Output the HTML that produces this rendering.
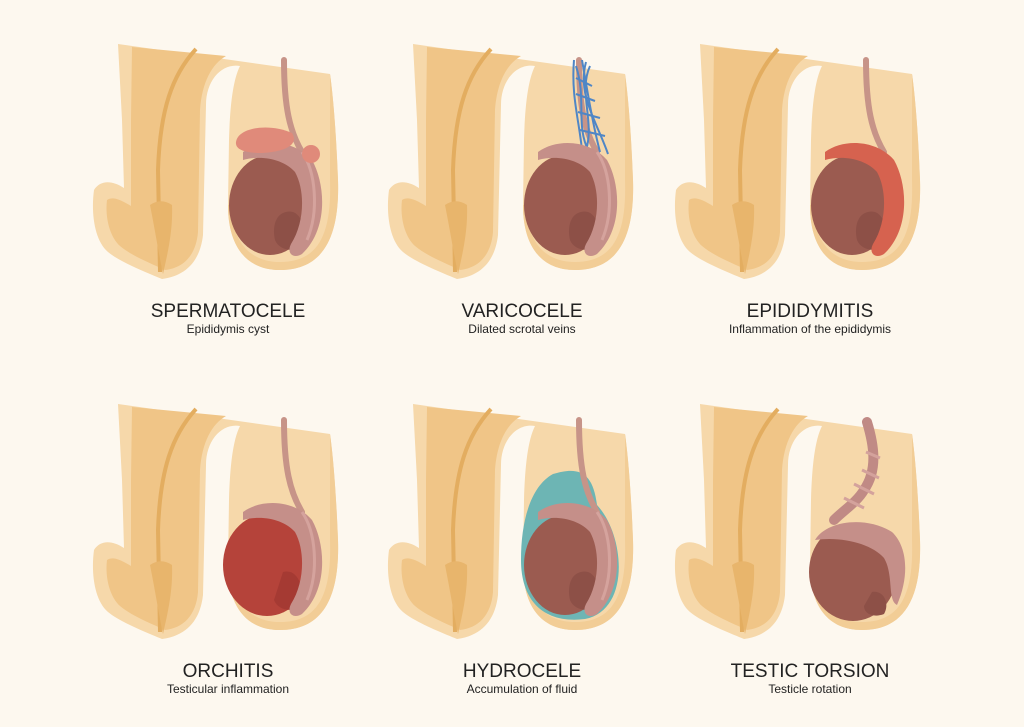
<!DOCTYPE html>
<html><head><meta charset="utf-8"><style>
html,body{margin:0;padding:0;background:#fdf8ef;}
svg{display:block}
.t{font-family:"Liberation Sans",sans-serif;fill:#222;text-anchor:middle}
</style></head><body>
<svg width="1024" height="727" viewBox="0 0 1024 727" xmlns="http://www.w3.org/2000/svg">
<rect width="1024" height="727" fill="#fdf8ef"/>
<defs>
<g id="base">
  <!-- full silhouette -->
  <path d="M118,44 L330,74 C333,95 336,130 338,180 C340,242 320,270 280,270 C246,270 228,246 228,205 L229,140 C230,105 233,80 240,66 C222,63 206,80 206,105 L203,235 C200,262 185,276 162,279 C145,272 120,262 108,252 C94,240 91,212 94,190 C100,180 112,180 124,188 L122,120 Z" fill="#f6d8aa"/>
  <!-- scrotum lower rim -->
  <path d="M330,74 C333,95 336,130 338,180 C340,242 320,270 280,270 C246,270 228,246 228,205 L231,205 C232,242 250,262 280,262 C316,262 332,238 330,180 Z" fill="#f2cd96"/>
  <!-- penis inner -->
  <path d="M132,47 L226,56 C212,64 202,82 200,110 L198,232 C196,256 183,268 165,270 C150,263 132,256 120,246 C109,236 105,216 107,200 C113,196 121,200 131,206 L131,120 Z" fill="#f0c587"/>
  <!-- stripe -->
  <path d="M196,49 C172,75 160,110 158,170 L160,272" stroke="#e3ad60" stroke-width="4" fill="none"/>
  <path d="M150,205 C155,230 159,255 163,274 C168,252 173,230 172,205 C165,200 157,200 150,205 Z" fill="#e8b56c"/>
</g>
<g id="cord"><path d="M284,60 C284,108 290,132 302,152" stroke="#c79488" stroke-width="6" fill="none" stroke-linecap="round"/></g>
<g id="testis">
  <ellipse cx="270" cy="205" rx="41" ry="50" fill="#9b5b50"/>
  <path d="M286,212 C300,208 308,228 303,246 C293,253 279,250 275,240 C272,226 276,214 286,212 Z" fill="#8d5047"/>
</g>
<path id="epishape" d="M243,152 C262,138 295,140 312,160 C326,185 328,230 302,254 C294,259 286,254 291,244 C305,222 305,190 295,172 C283,159 262,155 243,160 Z"/>
<g id="epi">
  <use href="#epishape" fill="#c58f89"/>
  <path d="M302,152 C316,172 319,212 307,240" stroke="#d5a39d" stroke-width="3" fill="none"/>
</g>
</defs>

<!-- Panel 1: spermatocele -->
<g>
  <use href="#base"/><use href="#cord"/><use href="#testis"/><use href="#epi"/>
  <path d="M236,142 C238,127 270,123 292,133 C300,146 282,152 262,153 C246,153 235,150 236,142 Z" fill="#e08a7a"/>
  <circle cx="311" cy="154" r="9" fill="#e08a7a"/>
</g>
<!-- Panel 2: varicocele -->
<g transform="translate(295,0)">
  <use href="#base"/><use href="#cord"/>
  <g stroke="#4f86c6" stroke-width="2" fill="none">
    <path d="M279,60 C276,95 284,120 287,150"/><path d="M287,60 C293,95 298,125 305,152"/>
    <path d="M291,62 C282,95 302,122 313,154"/><path d="M281,66 C292,100 280,125 294,152"/>
    <path d="M295,66 C283,92 300,122 291,150"/>
    <path d="M281,78 L297,86 M281,94 L300,101 M283,112 L305,118 M285,130 L310,136"/>
  </g>
  <use href="#testis"/><use href="#epi"/>
</g>
<!-- Panel 3: epididymitis -->
<g transform="translate(582,0)">
  <use href="#base"/><use href="#cord"/><use href="#testis"/>
  <use href="#epishape" fill="#d6624f"/>
</g>
<!-- Panel 4: orchitis -->
<g transform="translate(0,360)">
  <use href="#base"/><use href="#cord"/>
  <ellipse cx="267" cy="205" rx="44" ry="51" fill="#b5433a"/>
  <path d="M283,212 C298,208 305,228 301,246 C291,253 278,250 274,240 Z" fill="#a53a33"/>
  <use href="#epi"/>
</g>
<!-- Panel 5: hydrocele -->
<g transform="translate(295,360)">
  <use href="#base"/>
  <path d="M258,114 C284,106 298,112 302,145 C330,175 336,250 290,259 C250,264 226,242 226,200 C226,160 236,126 258,114 Z" fill="#6db5b4"/>
  <use href="#cord"/><use href="#testis"/><use href="#epi"/>
</g>
<!-- Panel 6: torsion -->
<g transform="translate(582,360)">
  <use href="#base"/>
  <path d="M285,62 C292,85 296,110 282,130 C275,142 262,150 252,160" stroke="#c08a85" stroke-width="10" fill="none" stroke-linecap="round"/>
  <path d="M284,92 L298,98 M280,110 L297,118 M272,124 L292,134 M262,138 L282,148" stroke="#d4a29c" stroke-width="3"/>
  <ellipse cx="271" cy="212" rx="44" ry="49" fill="#9b5b50"/>
  <path d="M290,232 C302,230 308,244 302,254 C292,258 282,254 282,246 Z" fill="#8d5047"/>
  <path d="M233,180 C245,160 285,156 310,172 C325,186 328,215 315,245 C305,240 312,215 302,198 C290,184 260,176 233,180 Z" fill="#c58f89"/>
</g>

<text class="t" x="228" y="317" font-size="19">SPERMATOCELE</text>
<text class="t" x="228" y="333" font-size="12">Epididymis cyst</text>
<text class="t" x="522" y="317" font-size="19">VARICOCELE</text>
<text class="t" x="522" y="333" font-size="12">Dilated scrotal veins</text>
<text class="t" x="810" y="317" font-size="19">EPIDIDYMITIS</text>
<text class="t" x="810" y="333" font-size="12">Inflammation of the epididymis</text>
<text class="t" x="228" y="677" font-size="19">ORCHITIS</text>
<text class="t" x="228" y="693" font-size="12">Testicular inflammation</text>
<text class="t" x="522" y="677" font-size="19">HYDROCELE</text>
<text class="t" x="522" y="693" font-size="12">Accumulation of fluid</text>
<text class="t" x="810" y="677" font-size="19">TESTIC TORSION</text>
<text class="t" x="810" y="693" font-size="12">Testicle rotation</text>
</svg>
</body></html>
